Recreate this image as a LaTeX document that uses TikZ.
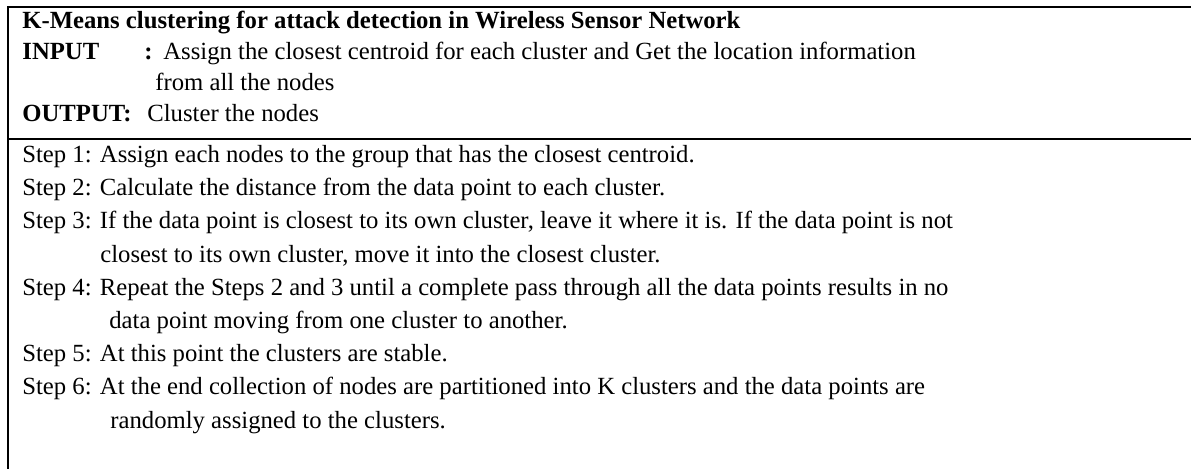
\documentclass[tikz,border=0pt]{standalone}
\usepackage{fontspec}
\setmainfont{Liberation Serif}
\begin{document}
\begin{tikzpicture}[x=0.5pt,y=-0.5pt,
  txt/.style={anchor=base west,inner sep=0pt,font=\fontsize{12.35}{14}\selectfont},
  hd/.style={anchor=base west,inner sep=0pt,font=\fontsize{12.35}{14}\selectfont\bfseries}]
  \useasboundingbox (0,0) rectangle (1191,469);
  \coordinate (tl) at (8,7);
  \coordinate (tr) at (1191,7);
  \coordinate (bl) at (8,469);
  \coordinate (ml) at (8,139);
  \coordinate (mr) at (1191,139);
  \draw [line width=1pt] (tr) -- (tl) -- (bl);
  \draw [line width=1pt] (ml) -- (mr);
  % header
  \node (title) at (22,29) [hd] {K-Means clustering for attack detection in Wireless Sensor Network};
  \node (inlbl) at (22,60) [hd] {INPUT};
  \node (incol) at (144,60) [hd] {:};
  \node (in1) at (163,60) [txt] {Assign the closest centroid for each cluster and Get the location information};
  \node (in2) at (155,91) [txt] {from all the nodes};
  \node (outlbl) at (22,122) [hd] {OUTPUT:};
  \node (out1) at (147,122) [txt] {Cluster the nodes};
  % steps
  \node (s1) at (22,162.6) [txt] {Step 1: Assign each nodes to the group that has the closest centroid.};
  \node (s2) at (22,195.8) [txt] {Step 2: Calculate the distance from the data point to each cluster.};
  \node (s3) at (22,229) [txt] {Step 3: If the data point is closest to its own cluster, leave it where it is. If the data point is not};
  \node (s3b) at (100,262.2) [txt] {closest to its own cluster, move it into the closest cluster.};
  \node (s4) at (22,295.4) [txt] {Step 4: Repeat the Steps 2 and 3 until a complete pass through all the data points results in no};
  \node (s4b) at (109,328.6) [txt] {data point moving from one cluster to another.};
  \node (s5) at (22,361.8) [txt] {Step 5: At this point the clusters are stable.};
  \node (s6) at (22,395) [txt] {Step 6: At the end collection of nodes are partitioned into K clusters and the data points are};
  \node (s6b) at (110,428.2) [txt] {randomly assigned to the clusters.};
\end{tikzpicture}
\end{document}
